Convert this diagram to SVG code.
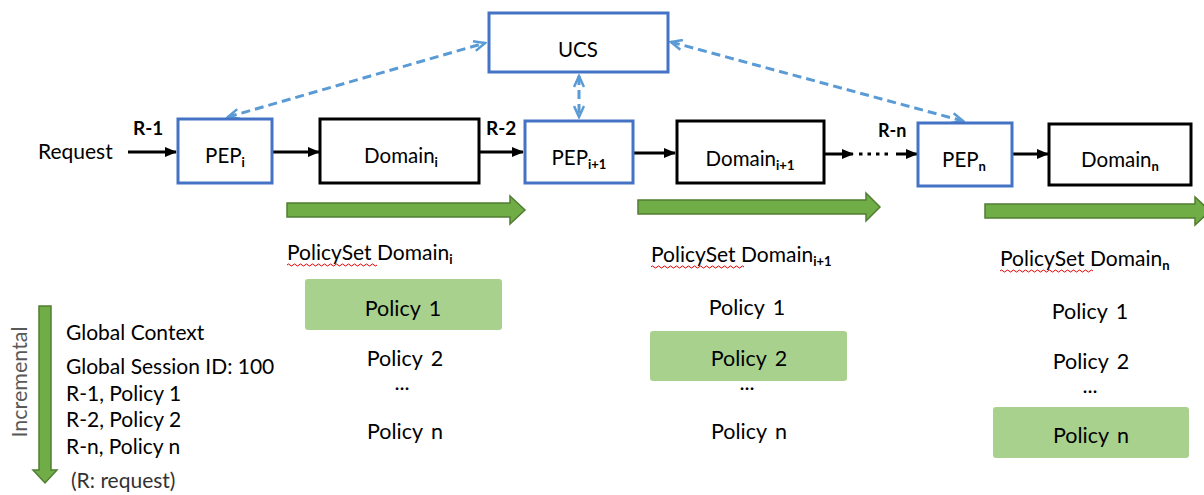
<svg xmlns="http://www.w3.org/2000/svg" width="1204" height="495" viewBox="0 0 1204 495">
<style>
.bb{fill:#fff;stroke:#4472C4;stroke-width:3}
.kb{fill:#fff;stroke:#000;stroke-width:3}
.t{font-family:Lato,"Liberation Sans",sans-serif;fill:#000}
.nt{font-size:20.5px;text-anchor:middle}
.pt{font-size:21.5px;text-anchor:middle;word-spacing:3px}
.lt{font-size:21px}
.sub{font-size:13px;font-weight:bold}
.ln{stroke:#000;stroke-width:3;fill:none}
.bl{stroke:#5B9BD5;stroke-width:3;fill:none;stroke-dasharray:9 5}
.ga{fill:#70AD47;stroke:#507E32;stroke-width:1.5}
.gb{fill:#A9D18E}
.sq{stroke:#E00000;stroke-width:1;fill:none}
</style>
<defs>
<marker id="ah" viewBox="0 0 12 10" refX="11" refY="5" markerWidth="12" markerHeight="10" markerUnits="userSpaceOnUse" orient="auto">
<path d="M0,0 L12,5 L0,10 Z" fill="#000"/>
</marker>
<marker id="bh" viewBox="0 0 14 12" refX="12" refY="6" markerWidth="14" markerHeight="12" markerUnits="userSpaceOnUse" orient="auto-start-reverse">
<path d="M1,1 L12,6 L1,11" fill="none" stroke="#5B9BD5" stroke-width="2.5"/>
</marker>
</defs>

<g id="connectors">
<path class="ln" d="M128,152 L176,152" marker-end="url(#ah)"/>
<path class="ln" d="M272,152 L319,152" marker-end="url(#ah)"/>
<path class="ln" d="M479,152 L523,152" marker-end="url(#ah)"/>
<path class="ln" d="M633,153 L675,153" marker-end="url(#ah)"/>
<path class="ln" d="M824,154 L853,154" marker-end="url(#ah)"/>
<path class="ln" d="M859,154 L893,154" stroke-dasharray="3.5 5" stroke-width="3.5"/>
<path class="ln" d="M896,154 L917,154" marker-end="url(#ah)"/>
<path class="ln" d="M1012,154 L1048,154" marker-end="url(#ah)"/>
<path class="bl" d="M228,117 L485,43" marker-start="url(#bh)" marker-end="url(#bh)"/>
<path class="bl" d="M671,42 L963,121" marker-start="url(#bh)" marker-end="url(#bh)"/>
<path class="bl" d="M579,76 L579,117" marker-start="url(#bh)" marker-end="url(#bh)"/>
<text class="t" x="133" y="135" font-family="Liberation Serif,serif" font-weight="bold" font-size="19">R-1</text>
<text class="t" x="486" y="135" font-family="Liberation Serif,serif" font-weight="bold" font-size="19">R-2</text>
<text class="t" x="878" y="137" font-size="18" font-weight="bold">R-n</text>
</g>

<g id="request"><text class="t" x="38" y="159" font-size="21">Request</text></g>

<g id="ucs"><rect class="bb" x="489" y="13" width="179" height="59"/><text class="t nt" x="578" y="57">UCS</text></g>
<g id="pep_i"><rect class="bb" x="178" y="119" width="94" height="64"/><text class="t nt" x="225" y="163">PEP<tspan class="sub" dy="4">i</tspan></text></g>
<g id="domain_i"><rect class="kb" x="320" y="119" width="159" height="64"/><text class="t nt" x="401" y="163">Domain<tspan class="sub" dy="4">i</tspan></text></g>
<g id="pep_i1"><rect class="bb" x="525" y="121" width="108" height="62"/><text class="t nt" x="579" y="165">PEP<tspan class="sub" dy="4">i+1</tspan></text></g>
<g id="domain_i1"><rect class="kb" x="677" y="121" width="147" height="62"/><text class="t nt" x="750" y="166">Domain<tspan class="sub" dy="4">i+1</tspan></text></g>
<g id="pep_n"><rect class="bb" x="918" y="123" width="94" height="63"/><text class="t nt" x="964" y="167">PEP<tspan class="sub" dy="4">n</tspan></text></g>
<g id="domain_n"><rect class="kb" x="1049" y="124" width="142" height="61"/><text class="t nt" x="1120" y="167">Domain<tspan class="sub" dy="4">n</tspan></text></g>

<g id="green-arrows">
<path class="ga" d="M287,203 L510,203 L510,196 L525,210 L510,224 L510,217 L287,217 Z"/>
<path class="ga" d="M638,200 L866,200 L866,193 L880,207 L866,221 L866,214 L638,214 Z"/>
<path class="ga" d="M985,204 L1195,204 L1195,197 L1210,211 L1195,225 L1195,218 L985,218 Z"/>
<path class="ga" d="M39,306 L51,306 L51,470 L57,470 L45,483 L33,470 L39,470 Z"/>
</g>

<g id="policyset-i">
<text class="t lt" x="287" y="260">PolicySet Domain<tspan class="sub" dy="4">i</tspan></text>
<path class="sq" d="M287,265 q1.5,-2 3,0 t3,0 t3,0 t3,0 t3,0 t3,0 t3,0 t3,0 t3,0 t3,0 t3,0 t3,0 t3,0 t3,0 t3,0 t3,0 t3,0 t3,0 t3,0 t3,0 t3,0 t3,0 t3,0 t3,0 t3,0 t3,0 t3,0 t3,0 t3,0 t3,0"/>
<rect class="gb" x="305" y="279" width="197" height="51" rx="3"/>
<text class="t pt" x="403" y="316">Policy 1</text>
<text class="t pt" x="405" y="366">Policy 2</text>
<text class="t pt" x="402" y="390">...</text>
<text class="t pt" x="405" y="439">Policy n</text>
</g>

<g id="policyset-i1">
<text class="t lt" x="651" y="262">PolicySet Domain<tspan class="sub" dy="4">i+1</tspan></text>
<path class="sq" d="M651,267 q1.5,-2 3,0 t3,0 t3,0 t3,0 t3,0 t3,0 t3,0 t3,0 t3,0 t3,0 t3,0 t3,0 t3,0 t3,0 t3,0 t3,0 t3,0 t3,0 t3,0 t3,0 t3,0 t3,0 t3,0 t3,0 t3,0 t3,0 t3,0 t3,0 t3,0 t3,0 t3,0"/>
<text class="t pt" x="747" y="315">Policy 1</text>
<rect class="gb" x="650" y="331" width="197" height="50" rx="3"/>
<text class="t pt" x="749" y="366">Policy 2</text>
<text class="t pt" x="747" y="390">...</text>
<text class="t pt" x="749" y="439">Policy n</text>
</g>

<g id="policyset-n">
<text class="t lt" x="1000" y="266">PolicySet Domain<tspan class="sub" dy="4">n</tspan></text>
<path class="sq" d="M1000,271 q1.5,-2 3,0 t3,0 t3,0 t3,0 t3,0 t3,0 t3,0 t3,0 t3,0 t3,0 t3,0 t3,0 t3,0 t3,0 t3,0 t3,0 t3,0 t3,0 t3,0 t3,0 t3,0 t3,0 t3,0 t3,0 t3,0 t3,0 t3,0 t3,0 t3,0 t3,0 t3,0"/>
<text class="t pt" x="1090" y="319">Policy 1</text>
<text class="t pt" x="1091" y="369">Policy 2</text>
<text class="t pt" x="1090" y="393">...</text>
<rect class="gb" x="993" y="407" width="196" height="51" rx="3"/>
<text class="t pt" x="1091" y="443">Policy n</text>
</g>

<g id="global-context">
<text class="t" x="27" y="382" font-size="21.5" style="fill:#595959" text-anchor="middle" transform="rotate(-90 27 382)">Incremental</text>
<text class="t lt" x="66" y="340">Global Context</text>
<text class="t lt" x="66" y="374">Global Session ID: 100</text>
<text class="t lt" x="66" y="401">R-1, Policy 1</text>
<text class="t lt" x="66" y="427">R-2, Policy 2</text>
<text class="t lt" x="66" y="454">R-n, Policy n</text>
<text class="t" x="71" y="488" font-size="21" style="fill:#333">(R: request)</text>
</g>
</svg>
